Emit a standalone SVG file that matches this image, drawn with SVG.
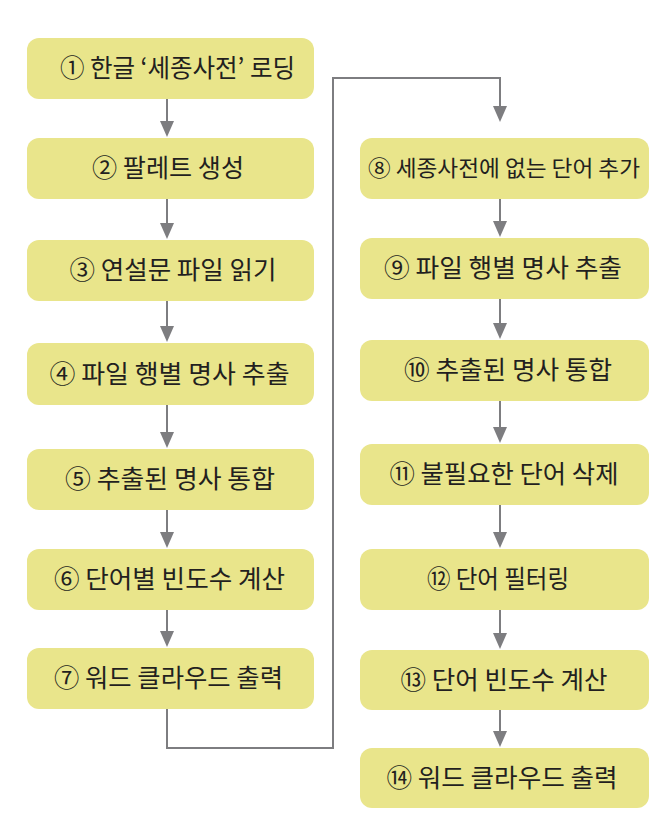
<svg xmlns="http://www.w3.org/2000/svg" width="651" height="826" viewBox="0 0 651 826">
  <defs>
    <style>
      .box { fill: #e9e58b; }
      .lbl { font-family: "Noto Sans CJK KR", "Noto Sans", sans-serif; font-size: 25px; fill: #231f20; text-anchor: middle; dominant-baseline: central; }
      .con { fill: none; stroke: #7d7d80; stroke-width: 2; }
      .ah { fill: #7d7d80; }
    </style>
  </defs>
  <rect width="651" height="826" fill="#ffffff"/>

  <g id="connectors">
    <line class="con" x1="167" y1="99" x2="167" y2="122"/>
    <path class="ah" d="M160,121 L174,121 L167,137 Z"/>
    <line class="con" x1="167" y1="199" x2="167" y2="224"/>
    <path class="ah" d="M160,223 L174,223 L167,239 Z"/>
    <line class="con" x1="167" y1="301" x2="167" y2="327"/>
    <path class="ah" d="M160,326 L174,326 L167,342 Z"/>
    <line class="con" x1="167" y1="405" x2="167" y2="433"/>
    <path class="ah" d="M160,432 L174,432 L167,448 Z"/>
    <line class="con" x1="167" y1="510" x2="167" y2="533"/>
    <path class="ah" d="M160,532 L174,532 L167,548 Z"/>
    <line class="con" x1="167" y1="610" x2="167" y2="632"/>
    <path class="ah" d="M160,631 L174,631 L167,647 Z"/>
    <polyline class="con" points="167,709 167,748 333,748 333,78 500,78 500,107"/>
    <path class="ah" d="M493,106 L507,106 L500,122 Z"/>
    <line class="con" x1="500" y1="199" x2="500" y2="222"/>
    <path class="ah" d="M493,221 L507,221 L500,237 Z"/>
    <line class="con" x1="500" y1="299" x2="500" y2="324"/>
    <path class="ah" d="M493,323 L507,323 L500,339 Z"/>
    <line class="con" x1="500" y1="401" x2="500" y2="428"/>
    <path class="ah" d="M493,427 L507,427 L500,443 Z"/>
    <line class="con" x1="500" y1="505" x2="500" y2="533"/>
    <path class="ah" d="M493,532 L507,532 L500,548 Z"/>
    <line class="con" x1="500" y1="610" x2="500" y2="634"/>
    <path class="ah" d="M493,633 L507,633 L500,649 Z"/>
    <line class="con" x1="500" y1="710" x2="500" y2="732"/>
    <path class="ah" d="M493,731 L507,731 L500,747 Z"/>
  </g>

  <g id="n1"><rect class="box" x="27" y="38" width="287" height="61" rx="12"/><text class="lbl" x="177.5" y="66" textLength="235" lengthAdjust="spacingAndGlyphs">① 한글 ‘세종사전’ 로딩</text></g>
  <g id="n2"><rect class="box" x="27" y="138" width="287" height="61" rx="12"/><text class="lbl" x="168" y="166" textLength="152" lengthAdjust="spacingAndGlyphs">② 팔레트 생성</text></g>
  <g id="n3"><rect class="box" x="27" y="240" width="287" height="61" rx="12"/><text class="lbl" x="173" y="268" textLength="207" lengthAdjust="spacingAndGlyphs">③ 연설문 파일 읽기</text></g>
  <g id="n4"><rect class="box" x="27" y="343" width="287" height="62" rx="12"/><text class="lbl" x="169.5" y="372" textLength="240" lengthAdjust="spacingAndGlyphs">④ 파일 행별 명사 추출</text></g>
  <g id="n5"><rect class="box" x="27" y="449" width="287" height="61" rx="12"/><text class="lbl" x="170" y="477" textLength="210" lengthAdjust="spacingAndGlyphs">⑤ 추출된 명사 통합</text></g>
  <g id="n6"><rect class="box" x="27" y="549" width="287" height="61" rx="12"/><text class="lbl" x="169.5" y="577" textLength="231" lengthAdjust="spacingAndGlyphs">⑥ 단어별 빈도수 계산</text></g>
  <g id="n7"><rect class="box" x="27" y="648" width="287" height="61" rx="12"/><text class="lbl" x="168.5" y="676" textLength="229" lengthAdjust="spacingAndGlyphs">⑦ 워드 클라우드 출력</text></g>

  <g id="n8"><rect class="box" x="360" y="138" width="289" height="61" rx="12"/><text class="lbl" x="504" y="166" style="font-size:22px" textLength="272" lengthAdjust="spacingAndGlyphs">⑧ 세종사전에 없는 단어 추가</text></g>
  <g id="n9"><rect class="box" x="360" y="238" width="289" height="61" rx="12"/><text class="lbl" x="503" y="266" textLength="238" lengthAdjust="spacingAndGlyphs">⑨ 파일 행별 명사 추출</text></g>
  <g id="n10"><rect class="box" x="360" y="340" width="289" height="61" rx="12"/><text class="lbl" x="508" y="368" textLength="208" lengthAdjust="spacingAndGlyphs">⑩ 추출된 명사 통합</text></g>
  <g id="n11"><rect class="box" x="360" y="444" width="289" height="61" rx="12"/><text class="lbl" x="504" y="472" textLength="229" lengthAdjust="spacingAndGlyphs">⑪ 불필요한 단어 삭제</text></g>
  <g id="n12"><rect class="box" x="360" y="549" width="289" height="61" rx="12"/><text class="lbl" x="498" y="577" textLength="142" lengthAdjust="spacingAndGlyphs">⑫ 단어 필터링</text></g>
  <g id="n13"><rect class="box" x="360" y="650" width="289" height="60" rx="12"/><text class="lbl" x="504" y="678" textLength="207" lengthAdjust="spacingAndGlyphs">⑬ 단어 빈도수 계산</text></g>
  <g id="n14"><rect class="box" x="360" y="748" width="289" height="60" rx="12"/><text class="lbl" x="502" y="776" textLength="231" lengthAdjust="spacingAndGlyphs">⑭ 워드 클라우드 출력</text></g>
</svg>
